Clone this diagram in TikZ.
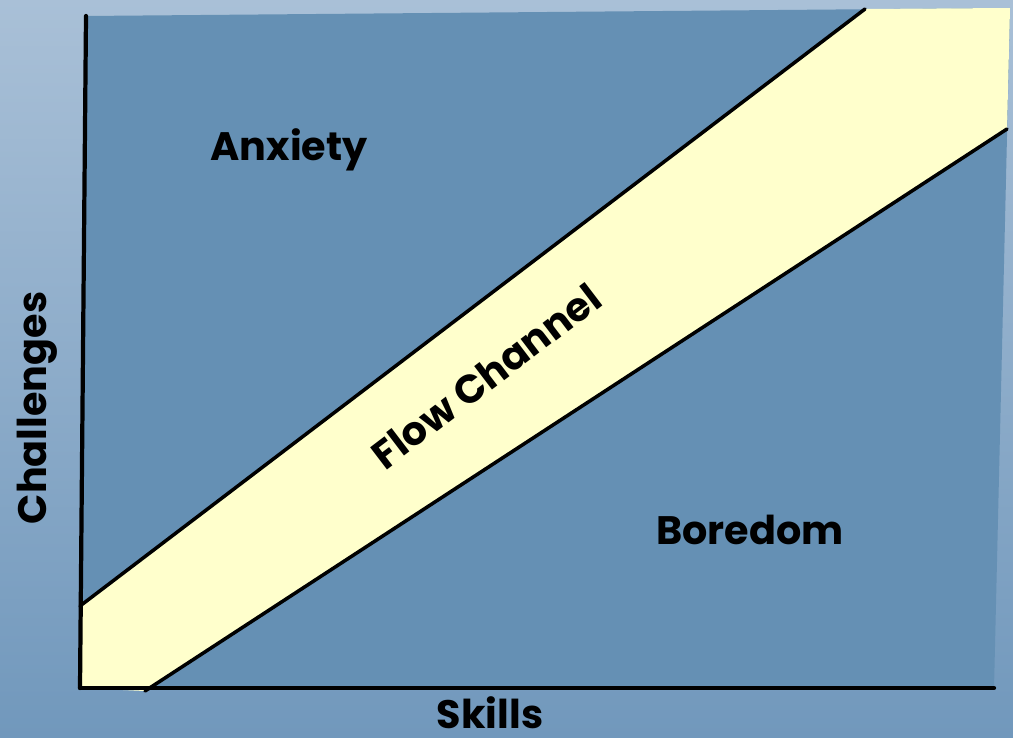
\documentclass[tikz,border=0pt]{standalone}
\usepackage{fontspec}
\setmainfont{Poppins}
\usepackage{xcolor}
\usepackage{tikz}
\usetikzlibrary{positioning,calc}
\definecolor{cBgTop}{HTML}{A9C0D7}
\definecolor{cBgBot}{HTML}{7198BC}
\definecolor{cPlot}{HTML}{6590B4}
\definecolor{cFlow}{HTML}{FFFFCC}
\tikzset{
  axis/.style={line width=1.2pt, draw=black, line cap=round},
  edge/.style={line width=1.0pt, draw=black, line cap=round},
  zone/.style={font=\bfseries\fontsize{11.3}{13}\selectfont, text=black, inner sep=0pt},
}

\begin{document}
\begin{tikzpicture}[x=0.01cm, y=-0.01cm]
  % background and frame
  \shade[top color=cBgTop, bottom color=cBgBot] (0,0) rectangle (1013,737);
  \useasboundingbox (0,0) rectangle (1013,737);
  \coordinate (tl) at (86,16);
  \coordinate (tr) at (1010,8);
  \coordinate (br) at (994,688);
  \coordinate (bl) at (80,688);
  % band corners
  \coordinate (up0) at (80,606);
  \coordinate (up1) at (865,9);
  \coordinate (lo0) at (145,691);
  \coordinate (lo1) at (1007,129);
  \fill[cPlot] (tl) -- (tr) -- (br) -- (bl) -- cycle;
  \fill[cFlow] (up0) -- (up1) -- (tr) -- (lo1) -- (lo0) -- (bl) -- cycle;
  \draw[edge] (up0) -- (up1);
  \draw[edge] (lo0) -- (lo1);
  \draw[axis] (bl) -- (tl);
  \draw[axis] (bl) -- (br);
  % labels
  \node[zone] (anx) at (289,150) {Anxiety};
  \node[zone] (bor) at (750,530) {Boredom};
  \node[zone, rotate=37.3] (flow) at (486,376) {Flow Channel};
  \node[zone] (skl) at (490,713) {Skills};
  \node[zone, rotate=90] (chl) at (37,408) {Challenges};
\end{tikzpicture}
\end{document}
